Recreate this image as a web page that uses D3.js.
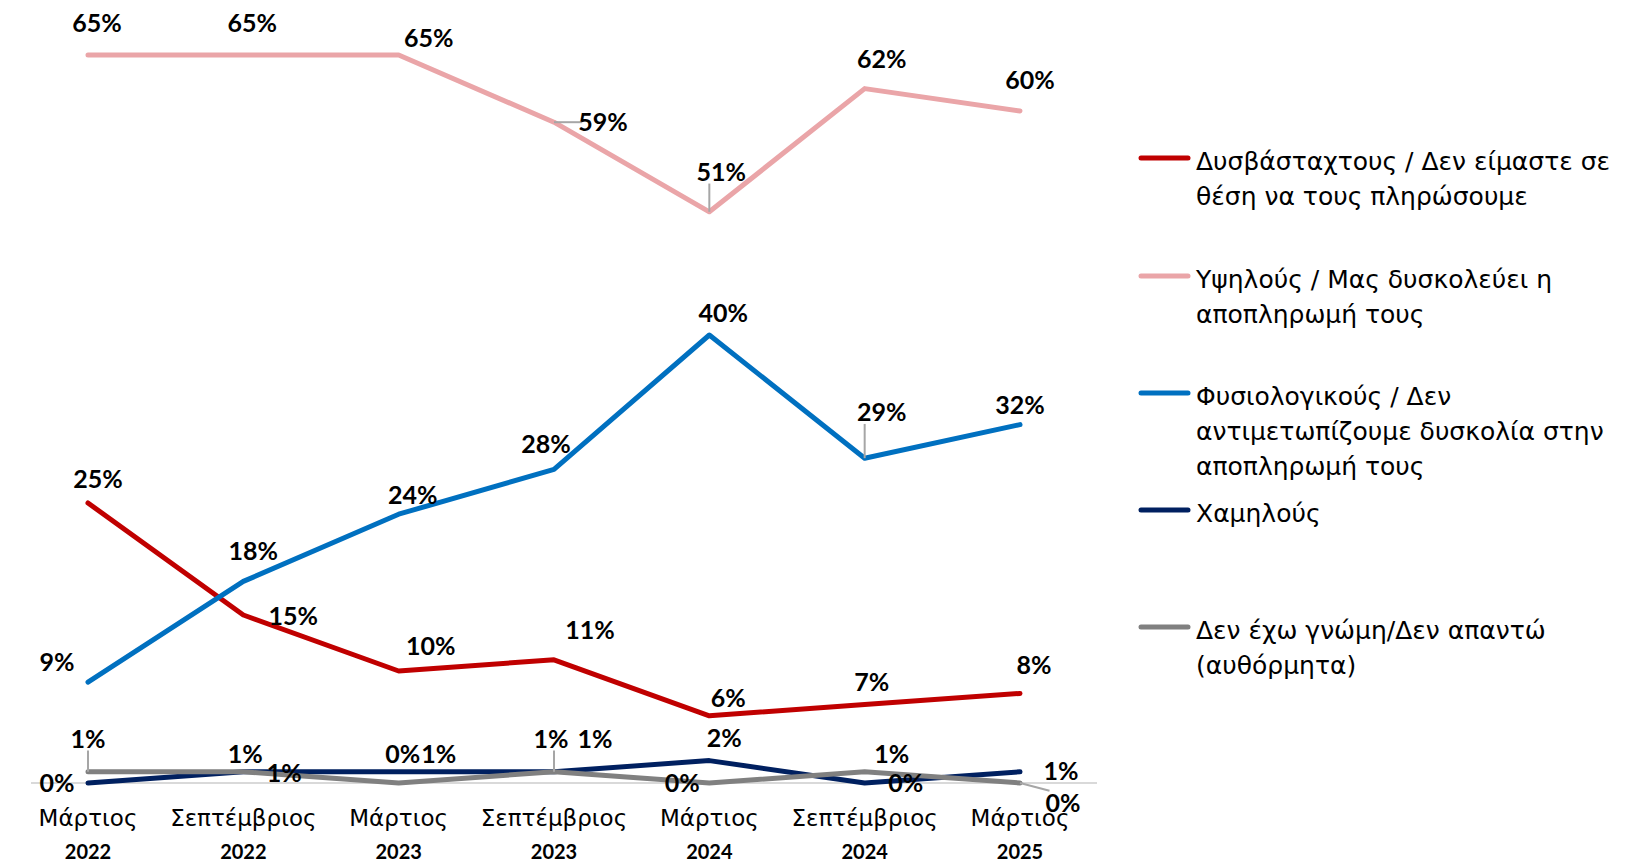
<!DOCTYPE html>
<html>
<head>
<meta charset="utf-8">
<script src="https://cdn.jsdelivr.net/npm/d3@7"></script>
<style>
  body { margin: 0; background: #fff; }
  svg { display: block; }
  .val { font-family: Lato, "Noto Sans", sans-serif; font-weight: 700; font-size: 25px; fill: #000; }
  .mon { font-family: "DejaVu Sans", sans-serif; font-size: 23px; fill: #000; }
  .yr { font-family: Lato, "Noto Sans", sans-serif; font-weight: 700; font-size: 20px; fill: #000; }
  .leg { font-family: "DejaVu Sans", sans-serif; font-size: 25px; fill: #000; }
</style>
</head>
<body>
<svg id="chart" width="1631" height="864"></svg>
<script>
// categories (two-line tick labels)
var months = ["Μάρτιος", "Σεπτέμβριος", "Μάρτιος", "Σεπτέμβριος", "Μάρτιος", "Σεπτέμβριος", "Μάρτιος"];
var years = ["2022", "2022", "2023", "2023", "2024", "2024", "2025"];
var periods = months.map(function(m, i) { return m + " " + years[i]; });

// series values (%)
var unbearable = [25, 15, 10, 11, 6, 7, 8];
var high = [65, 65, 65, 59, 51, 62, 60];
var normal = [9, 18, 24, 28, 40, 29, 32];
var low = [0, 1, 1, 1, 2, 0, 1];
var noAnswer = [1, 1, 0, 1, 0, 1, 0];

var seriesNames = [
  ["Δυσβάσταχτους / Δεν είμαστε σε", "θέση να τους πληρώσουμε"],
  ["Υψηλούς / Μας δυσκολεύει η", "αποπληρωμή τους"],
  ["Φυσιολογικούς / Δεν", "αντιμετωπίζουμε δυσκολία στην", "αποπληρωμή τους"],
  ["Χαμηλούς"],
  ["Δεν έχω γνώμη/Δεν απαντώ", "(αυθόρμητα)"]
];
var seriesValues = [unbearable, high, normal, low, noAnswer];
var colors = ["#c00000", "#eaa5a8", "#0070c0", "#002060", "#808080"];

// label offsets from each point [dx, dy] (layout only)
var labelOffsets = [
  [[10, -24], [50, 1], [32, -25], [36, -30], [19, -18], [7, -22], [14, -28]],
  [[9, -32], [9, -32], [30, -17], [49, 0], [12, -40], [17, -29], [10, -31]],
  [[-31, -20], [10, -30], [14, -19], [-8, -25], [14, -22], [17, -46], [0, -19]],
  [[-31, 0], [41, 1], [40, -18], [41, -33], [15, -22], [41, 0], [41, -1]],
  [[0, -33], [2, -18], [4, -29], [-3, -33], [-27, 0], [27, -18], [43, 20]]
];
// labels joined to their point by a leader line [series, index]
var leaders = [[1, 3], [1, 4], [2, 5], [4, 0], [4, 3], [4, 6]];

var svg = d3.select("#chart");

var x = d3.scalePoint().domain(periods).range([88, 1020]);
var y = d3.scaleLinear().domain([0, 65]).range([783, 55]);

// baseline
svg.append("line")
  .attr("x1", 31).attr("x2", 1097)
  .attr("y1", y(0)).attr("y2", y(0))
  .attr("stroke", "#d9d9d9").attr("stroke-width", 2);

// x axis labels
var ticks = svg.append("g");
periods.forEach(function(p, i) {
  ticks.append("text").attr("class", "mon")
    .attr("x", x(p)).attr("y", 818).attr("dy", "0.35em")
    .attr("text-anchor", "middle").text(months[i]);
  ticks.append("text").attr("class", "yr")
    .attr("x", x(p)).attr("y", 852).attr("dy", "0.35em")
    .attr("text-anchor", "middle").text(years[i]);
});

var line = d3.line()
  .x(function(d, i) { return x(periods[i]); })
  .y(function(d) { return y(d); });

seriesValues.forEach(function(vals, s) {
  svg.append("path")
    .attr("d", line(vals))
    .attr("fill", "none")
    .attr("stroke", colors[s])
    .attr("stroke-width", 5)
    .attr("stroke-linejoin", "round")
    .attr("stroke-linecap", "round");
});

// value labels
var labelNodes = {};
seriesValues.forEach(function(vals, s) {
  vals.forEach(function(v, i) {
    var off = labelOffsets[s][i];
    var t = svg.append("text").attr("class", "val")
      .attr("x", x(periods[i]) + off[0])
      .attr("y", y(v) + off[1])
      .attr("dy", "0.35em")
      .attr("text-anchor", "middle")
      .text(v + "%");
    labelNodes[s + "-" + i] = t;
  });
});

// leader lines
leaders.forEach(function(l) {
  var s = l[0], i = l[1];
  var px = x(periods[i]), py = y(seriesValues[s][i]);
  var b = labelNodes[s + "-" + i].node().getBBox();
  var ex = Math.max(b.x + 4, Math.min(px, b.x + b.width - 4));
  var ey = Math.max(b.y + 4, Math.min(py, b.y + b.height - 2));
  svg.insert("line", "text.val")
    .attr("x1", px).attr("y1", py)
    .attr("x2", ex).attr("y2", ey)
    .attr("stroke", "#a6a6a6").attr("stroke-width", 2);
});

// legend
var legendY = [158, 276, 393, 510, 627];
var legend = svg.append("g");
seriesNames.forEach(function(lines, s) {
  legend.append("line")
    .attr("x1", 1141).attr("x2", 1188)
    .attr("y1", legendY[s]).attr("y2", legendY[s])
    .attr("stroke", colors[s]).attr("stroke-width", 5)
    .attr("stroke-linecap", "round");
  lines.forEach(function(txt, k) {
    legend.append("text").attr("class", "leg")
      .attr("x", 1196).attr("y", legendY[s] + 3 + k * 35)
      .attr("dy", "0.35em")
      .text(txt);
  });
});
</script>
</body>
</html>
